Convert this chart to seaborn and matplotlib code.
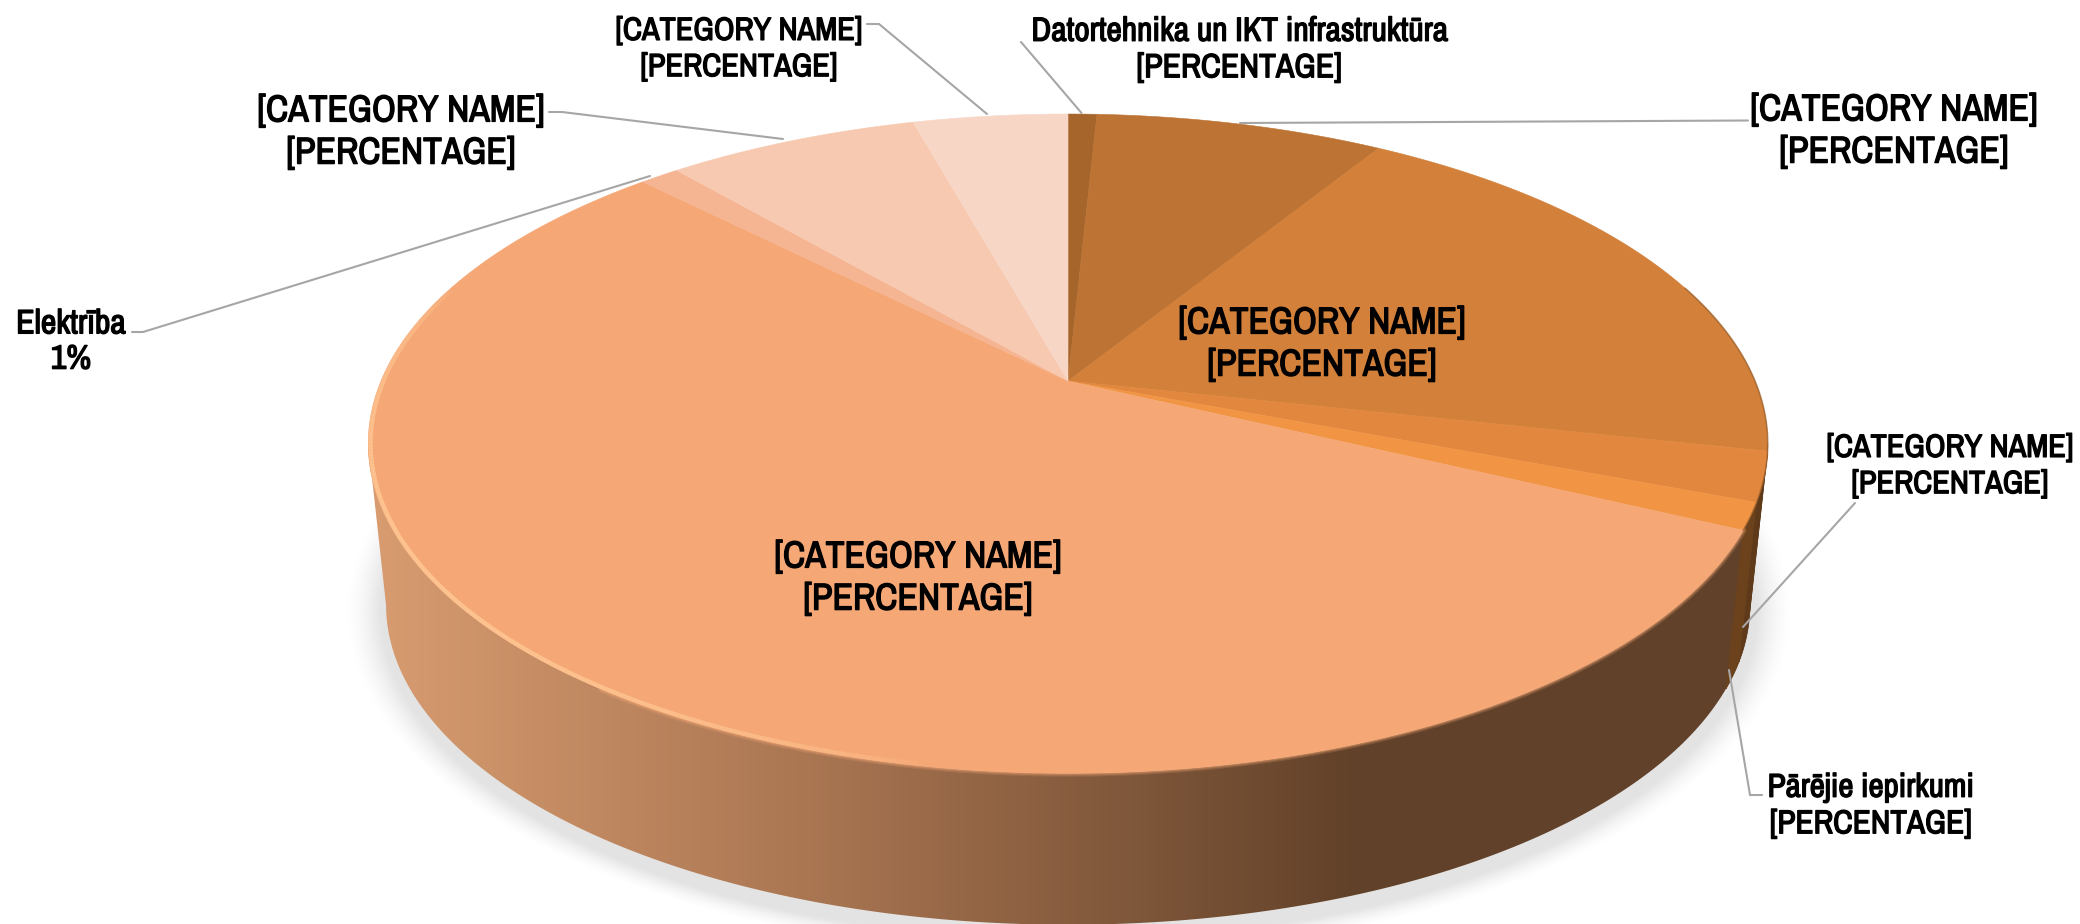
import numpy as np
import matplotlib
matplotlib.use("Agg")
import matplotlib.pyplot as plt
import matplotlib.patheffects as pe
import seaborn as sns
from matplotlib.patches import Polygon
from matplotlib.collections import LineCollection
from matplotlib.colors import LinearSegmentedColormap, to_rgb

sns.set_theme(style="white")
FONT = ["Archivo Narrow", "Roboto Condensed", "Liberation Sans", "DejaVu Sans"]
plt.rcParams["font.family"] = FONT

# ---------- data (clockwise from 12 o'clock) ----------
categories = ["Datortehnika un IKT infrastruktūra", "[CATEGORY NAME]", "[CATEGORY NAME]",
              "[CATEGORY NAME]", "Pārējie iepirkumi", "[CATEGORY NAME]", "Elektrība",
              "[CATEGORY NAME]", "[CATEGORY NAME]"]
shares = [0.8, 8.0, 19.6, 2.4, 1.3, 55.5, 1.1, 7.0, 4.3]
percent_labels = ["[PERCENTAGE]", "[PERCENTAGE]", "[PERCENTAGE]", "[PERCENTAGE]", "[PERCENTAGE]",
                  "[PERCENTAGE]", "1%", "[PERCENTAGE]", "[PERCENTAGE]"]
slice_colors = sns.color_palette(["#A5652B", "#BD7333", "#D2803A", "#E2873E", "#F19544",
                                  "#F5A876", "#F6B592", "#F7C9B0", "#F7D6C5"])

# ---------- layout ----------
CX, CY_TOP, RX_TOP, RY_TOP = 1068.0, 381.0, 687.0, 317.7
CY_BOT, RX_BOT, RY_BOT = 544.0, 669.5, 308.4
K = 0.19
BIG, SMALL = 27.0, 23.2

# index into categories, label centre, font size, line spacing
label_layout = [
    (0, 1239, 50, 24.2, 1.27), (1, 1894, 131, BIG, 1.34), (2, 1322, 344, BIG, 1.34),
    (3, 1950, 466, SMALL, 1.36), (4, 1871, 806, 23.8, 1.27), (5, 918, 578, BIG, 1.34),
    (6, 71, 342, 24.4, 1.22), (7, 401, 132, BIG, 1.34), (8, 739, 49, SMALL, 1.36),
]
leaders = [
    [(1021, 42), (1081.5, 113)],
    [(1748, 120.5), (1240, 123)],
    [(1855, 503), (1743, 627)],
    [(1762, 795), (1750, 795), (1729, 670)],
    [(132, 332), (143, 332), (650, 176)],
    [(549, 112), (562, 112), (783, 139)],
    [(867, 24), (879, 24), (987, 114)],
]


def project(theta_deg, cy, rx, ry):
    t = np.radians(theta_deg)
    f = 1.0 / (1.0 + K * np.cos(t))
    return CX + rx * np.sin(t) * f, cy - ry * np.cos(t) * f


def top(theta):
    return project(theta, CY_TOP, RX_TOP, RY_TOP)


def bottom(theta):
    return project(theta, CY_BOT, RX_BOT, RY_BOT)


fig = plt.figure(figsize=(20.8, 9.24), dpi=100, facecolor="white")
ax = fig.add_axes([0, 0, 1, 1])
ax.set_axis_off()

# soft shadow under the disc
xx, yy = np.meshgrid(np.arange(0, 2080, 2.0), np.arange(0, 960, 2.0))
rho = np.sqrt(((xx - CX) / 688.0) ** 2 + ((yy - 610.0) / 329.0) ** 2)
dist = (rho - 1.0) * 400.0
alpha = np.clip(1 - dist / 22.0, 0, 1) ** 1.6 * 0.11
alpha[dist < -40] = 0
rgba = np.zeros(xx.shape + (4,))
rgba[..., 3] = alpha
ax.imshow(rgba, extent=[0, 2080, 960, 0], aspect="auto", interpolation="bilinear", zorder=1)

# side wall, horizontal gradient clipped to the front band
ts = np.linspace(101, 259, 400)
wx = np.r_[top(ts)[0], bottom(ts[::-1])[0]]
wy = np.r_[top(ts)[1], bottom(ts[::-1])[1]]
wall_patch = Polygon(np.c_[wx, wy], closed=True, fc="none", ec="none", transform=ax.transData)
ax.add_patch(wall_patch)
stops = [(0.0, "#D89C70"), (0.475, "#A67350"), (1.0, "#614129")]
wall_cmap = LinearSegmentedColormap.from_list("wall", stops)
gx = np.clip((np.linspace(0, 2080, 1040) - 370) / 990.0, 0, 1)
im = ax.imshow(gx[None, :], cmap=wall_cmap, vmin=0, vmax=1, extent=[0, 2080, 960, 0],
               aspect="auto", zorder=2)
im.set_clip_path(wall_patch)

# darker wall pieces of the small right-hand slices
edges = np.r_[0, np.cumsum(shares)] / np.sum(shares) * 360.0
wall_right = {2: "#6A3F1A", 3: "#5E3A1B", 4: "#6B421C"}
for i, col in wall_right.items():
    a0 = max(edges[i], 101.0)
    a1 = edges[i + 1]
    if a1 <= a0:
        continue
    t = np.linspace(a0, a1, 40)
    px = np.r_[top(t)[0], bottom(t[::-1])[0]]
    py = np.r_[top(t)[1], bottom(t[::-1])[1]]
    ax.add_patch(Polygon(np.c_[px, py], closed=True, fc=col, ec=col, lw=0.5, zorder=3))

# top face
for i, col in enumerate(slice_colors):
    t = np.linspace(edges[i], edges[i + 1], max(int(shares[i] * 8), 8))
    px, py = top(t)
    ax.add_patch(Polygon(np.c_[np.r_[CX, px], np.r_[CY_TOP, py]], closed=True,
                         fc=col, ec=col, lw=0.4, zorder=4))

# soft lower edge of the big slice against the wall
t = np.linspace(edges[5], 215, 300)
px, py = top(t)
for w, a in [(7, 0.18), (4.5, 0.25), (2.5, 0.35)]:
    ax.plot(px, py, color=slice_colors[5], lw=w * 0.72, alpha=a, solid_capstyle="round", zorder=5)

# light rim on the left part of the front edge
t = np.linspace(190, 288, 400)
px, py = top(t)
py2 = py - 2.0 * np.cos(np.radians(t) - np.pi)
px2 = px + 2.5 * np.sin(np.radians(t) - np.pi)
pts = np.c_[px2, py2]
segs = np.stack([pts[:-1], pts[1:]], axis=1)
env = np.sin(np.linspace(0, np.pi, len(segs))) ** 0.5
rim = [to_rgb("#FFC793") + (0.95 * e,) for e in env]
ax.add_collection(LineCollection(segs, colors=rim, linewidths=3.0, zorder=6))
# darker rim on the right-hand slices
t = np.linspace(72, edges[5], 120)
px, py = top(t)
ax.plot(px, py, color="#8A5524", lw=1.2, alpha=0.55, zorder=5)

# leader lines
for pts in leaders:
    arr = np.array(pts)
    ax.plot(arr[:, 0], arr[:, 1], color="#A6A6A6", lw=1.5, zorder=7, solid_joinstyle="miter")

# labels (the narrow family has one weight here, so a thin outline gives the bold look)
for idx, x, y, fs, ls in label_layout:
    ax.text(x, y, f"{categories[idx]}\n{percent_labels[idx]}", ha="center", va="center",
            fontsize=fs, color="black", family=FONT, linespacing=ls, zorder=8,
            path_effects=[pe.withStroke(linewidth=1.0, foreground="black")])

ax.set_xlim(0, 2080)
ax.set_ylim(924, 0)
fig.savefig("out.png", dpi=100, facecolor="white")
